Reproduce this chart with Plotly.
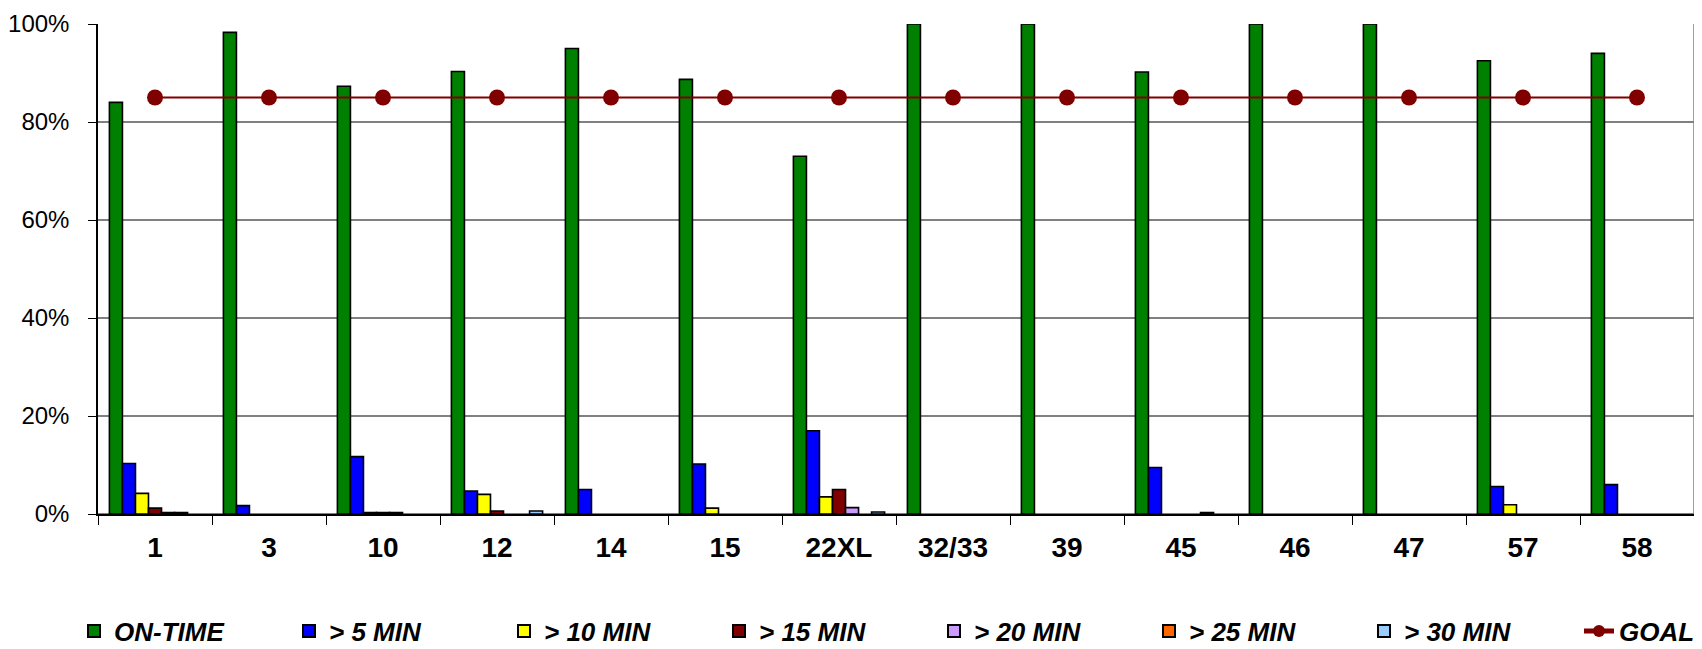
import plotly.graph_objects as go

categories = ["1", "3", "10", "12", "14", "15", "22XL", "32/33", "39", "45", "46", "47", "57", "58"]
on_time = [84.0, 98.3, 87.3, 90.3, 95.0, 88.7, 73.0, 100, 100, 90.2, 100, 100, 92.5, 94.0]
min5 = [10.3, 1.7, 11.7, 4.7, 5.0, 10.2, 17.0, 0, 0, 9.5, 0, 0, 5.6, 6.0]
min10 = [4.2, 0, 0.3, 4.0, 0, 1.2, 3.5, 0, 0, 0, 0, 0, 1.9, 0]
min15 = [1.2, 0, 0.3, 0.6, 0, 0, 5.0, 0, 0, 0, 0, 0, 0, 0]
min20 = [0.3, 0, 0.3, 0, 0, 0, 1.3, 0, 0, 0, 0, 0, 0, 0]
min25 = [0.3, 0, 0, 0, 0, 0, 0, 0, 0, 0.3, 0, 0, 0, 0]
min30 = [0, 0, 0, 0.6, 0, 0, 0.4, 0, 0, 0, 0, 0, 0, 0]
goal = [85] * len(categories)

series = [
    ("ON-TIME", on_time, "#008000"),
    ("> 5 MIN", min5, "#0000FF"),
    ("> 10 MIN", min10, "#FFFF00"),
    ("> 15 MIN", min15, "#800000"),
    ("> 20 MIN", min20, "#CC99FF"),
    ("> 25 MIN", min25, "#FF6600"),
    ("> 30 MIN", min30, "#99CCFF"),
]

# page body adds an 8px offset; figure sized to fit the window
W, H = 1694, 641
ML, MR, MT, MB = 90, 8, 16, 135
PW = W - ML - MR
PH = H - MT - MB

legend_ids = ["legend"] + ["legend%d" % i for i in range(2, 9)]

fig = go.Figure()
for i, (name, vals, color) in enumerate(series):
    fig.add_trace(go.Bar(
        x=categories, y=[v if v > 0 else None for v in vals], name=name,
        marker=dict(color=color, line=dict(color="black", width=1.6)),
        legend=legend_ids[i],
    ))
fig.add_trace(go.Scatter(
    x=categories, y=goal, name="GOAL", mode="lines+markers",
    line=dict(color="#800000", width=2),
    marker=dict(color="#800000", size=16),
    legend=legend_ids[7],
))

legend_font = dict(size=26, style="italic", weight="bold", color="black",
                   family="Liberation Sans, Arial")
leg_layout = {}
for i, lid in enumerate(legend_ids):
    left_px = 66 + 215 * i
    leg_layout[lid] = dict(
        orientation="h", x=(left_px - ML) / PW, xanchor="left",
        y=-(623 - (MT + PH)) / PH, yanchor="middle",
        font=legend_font, bgcolor="rgba(0,0,0,0)", borderwidth=0,
        itemsizing="constant",
    )

fig.update_layout(
    width=W, height=H,
    margin=dict(l=ML, r=MR, t=MT, b=MB, autoexpand=False),
    paper_bgcolor="white", plot_bgcolor="white",
    barmode="group", bargap=0.2, bargroupgap=0,
    font=dict(family="Liberation Sans, Arial", color="black"),
    showlegend=True,
    **leg_layout,
)
fig.update_xaxes(
    type="category", range=[-0.5, len(categories) - 0.5],
    tickson="boundaries", ticks="outside", ticklen=9,
    tickcolor="black", showline=True, linecolor="black", linewidth=1.5,
    tickfont=dict(size=28, weight="bold"), ticklabelstandoff=8,
    showgrid=False, automargin=False,
)
fig.update_yaxes(
    range=[0, 100], dtick=20, ticksuffix="%", ticks="outside", ticklen=8,
    tickcolor="black", showline=True, linecolor="black", linewidth=1.5,
    gridcolor="#808080", gridwidth=1.5, zeroline=True, zerolinecolor="#808080",
    zerolinewidth=2, tickfont=dict(size=24), ticklabelstandoff=14,
    ticklabeloverflow="allow", automargin=False,
)
fig.add_shape(type="line", xref="paper", yref="paper", x0=1, x1=1, y0=0, y1=1,
              line=dict(color="#808080", width=1.5))

fig.write_html("out.html")
